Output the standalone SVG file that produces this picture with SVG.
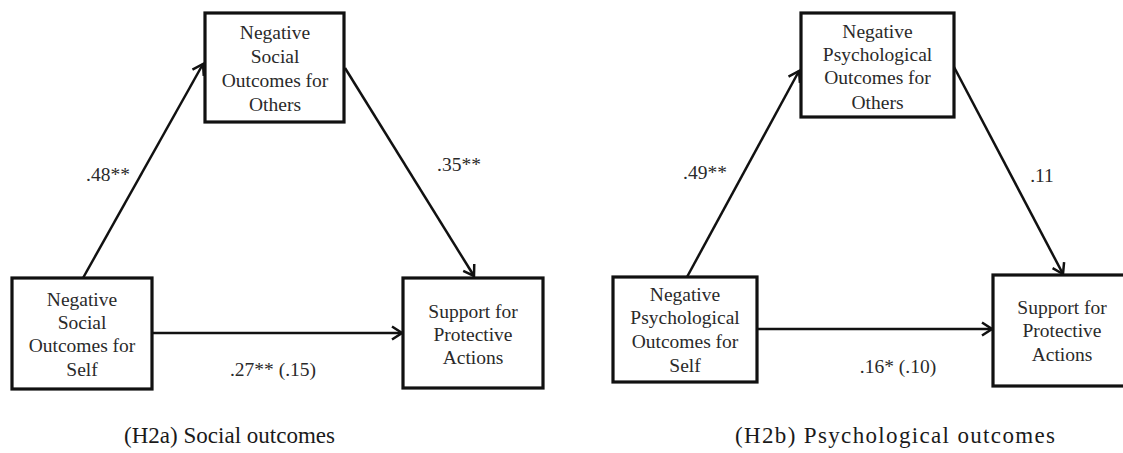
<svg xmlns="http://www.w3.org/2000/svg" width="1123" height="453" viewBox="0 0 1123 453">
<style>
.box{fill:#fff;stroke:#111;stroke-width:3.2}
.t{font-family:"Liberation Serif","Times New Roman",serif;font-size:19.5px;fill:#2a2a2a;text-anchor:middle}
.cap{font-family:"Liberation Serif","Times New Roman",serif;font-size:23px;fill:#1a1a1a}
.edge{stroke:#111;stroke-width:2.5;fill:none}
</style>
<defs>
<marker id="arr" markerUnits="userSpaceOnUse" markerWidth="14" markerHeight="16" refX="12" refY="8" orient="auto" viewBox="0 0 14 16">
<path d="M2,1.5 L12,8 L2,14.5" fill="none" stroke="#111" stroke-width="2.5"/>
</marker>
</defs>
<rect width="1123" height="453" fill="#fff"/>
<g id="connectors">
<line class="edge" x1="83" y1="278" x2="203" y2="64" marker-end="url(#arr)"/>
<line class="edge" x1="345" y1="68" x2="474" y2="276" marker-end="url(#arr)"/>
<line class="edge" x1="152" y1="333" x2="402" y2="333" marker-end="url(#arr)"/>
<line class="edge" x1="687" y1="277" x2="799" y2="71" marker-end="url(#arr)"/>
<line class="edge" x1="954" y1="67" x2="1063" y2="274" marker-end="url(#arr)"/>
<line class="edge" x1="757" y1="329" x2="992" y2="329" marker-end="url(#arr)"/>
</g>
<g id="a_self">
<rect class="box" x="12" y="278" width="140" height="111"/>
<text class="t" x="82" y="306">Negative</text>
<text class="t" x="82" y="329">Social</text>
<text class="t" x="82" y="352">Outcomes for</text>
<text class="t" x="82" y="376">Self</text>
</g>
<g id="a_others">
<rect class="box" x="205" y="13" width="139" height="109"/>
<text class="t" x="275" y="39">Negative</text>
<text class="t" x="275" y="63">Social</text>
<text class="t" x="275" y="87">Outcomes for</text>
<text class="t" x="275" y="111">Others</text>
</g>
<g id="a_support">
<rect class="box" x="403" y="278" width="140" height="110"/>
<text class="t" x="473" y="318">Support for</text>
<text class="t" x="473" y="341">Protective</text>
<text class="t" x="473" y="364">Actions</text>
</g>
<g id="b_self">
<rect class="box" x="613" y="277" width="144" height="105"/>
<text class="t" x="685" y="301">Negative</text>
<text class="t" x="685" y="324">Psychological</text>
<text class="t" x="685" y="348">Outcomes for</text>
<text class="t" x="685" y="372">Self</text>
</g>
<g id="b_others">
<rect class="box" x="801" y="13" width="153" height="104"/>
<text class="t" x="877.5" y="38">Negative</text>
<text class="t" x="877.5" y="61">Psychological</text>
<text class="t" x="877.5" y="84">Outcomes for</text>
<text class="t" x="877.5" y="109">Others</text>
</g>
<g id="b_support">
<rect class="box" x="993" y="275" width="140" height="111"/>
<text class="t" x="1062" y="314">Support for</text>
<text class="t" x="1062" y="337">Protective</text>
<text class="t" x="1062" y="361">Actions</text>
</g>
<g id="labels">
<text class="t" x="108" y="181">.48**</text>
<text class="t" x="459" y="171">.35**</text>
<text class="t" x="273" y="376">.27** (.15)</text>
<text class="t" x="705" y="179">.49**</text>
<text class="t" x="1042" y="182">.11</text>
<text class="t" x="898" y="373">.16* (.10)</text>
</g>
<g id="captions">
<text class="cap" x="124" y="443" textLength="211" lengthAdjust="spacing">(H2a) Social outcomes</text>
<text class="cap" x="735" y="443" textLength="320" lengthAdjust="spacing">(H2b) Psychological outcomes</text>
</g>
</svg>
